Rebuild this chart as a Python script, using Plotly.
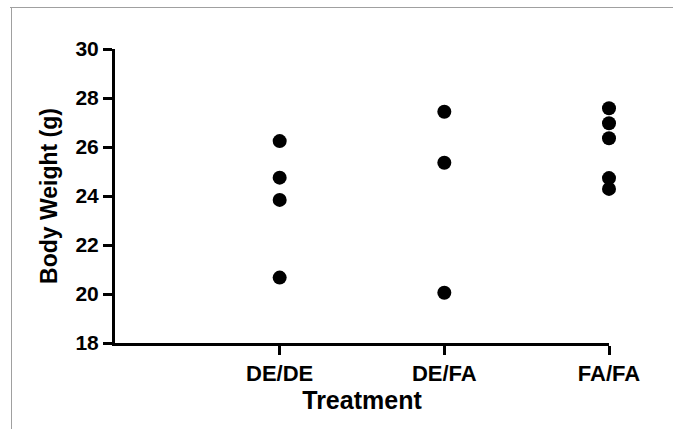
import plotly.graph_objects as go

categories = ["DE/DE", "DE/FA", "FA/FA"]
de_de = [26.24, 24.75, 23.84, 20.67]
de_fa = [27.44, 25.36, 20.05]
fa_fa = [27.58, 26.97, 26.36, 24.73, 24.29]
yticks = [18, 20, 22, 24, 26, 28, 30]

groups = [de_de, de_fa, fa_fa]
xs, ys = [], []
for cat, vals in zip(categories, groups):
    xs += [cat] * len(vals)
    ys += vals

fig = go.Figure()
fig.add_trace(go.Scatter(
    x=xs, y=ys, mode="markers",
    marker=dict(color="black", size=14, line=dict(width=0)),
    cliponaxis=False, showlegend=False,
))

font_family = "Liberation Sans, Arial, sans-serif"
fig.update_layout(
    width=673, height=429,
    margin=dict(l=115, r=64, t=49, b=86),
    paper_bgcolor="white", plot_bgcolor="white",
    font=dict(family=font_family, color="black"),
    xaxis=dict(
        type="category", categoryorder="array", categoryarray=categories,
        range=[-1, 2],
        showgrid=False, zeroline=False,
        showline=True, linecolor="black", linewidth=3,
        ticks="outside", ticklen=9, tickwidth=3, tickcolor="black",
        tickfont=dict(size=22, family=font_family, weight="bold"),
        title=dict(text="<b>Treatment</b>", font=dict(size=25, family=font_family), standoff=3),
    ),
    yaxis=dict(
        range=[18, 30], tickvals=yticks,
        showgrid=False, zeroline=False,
        showline=True, linecolor="black", linewidth=3,
        ticks="outside", ticklen=9, tickwidth=3, tickcolor="black",
        tickfont=dict(size=21, family=font_family, weight="bold"),
        title=dict(text="<b>Body Weight (g)</b>", font=dict(size=23, family=font_family), standoff=12),
    ),
    shapes=[
        dict(type="line", xref="paper", yref="paper",
             x0=(10 - 115) / 494, x1=(680 - 115) / 494,
             y0=(343 - 7.5) / 294, y1=(343 - 7.5) / 294,
             line=dict(color="#a0a0a0", width=1)),
        dict(type="line", xref="paper", yref="paper",
             x0=(11.5 - 115) / 494, x1=(11.5 - 115) / 494,
             y0=(343 - 7.5) / 294, y1=(343 - 440) / 294,
             line=dict(color="#a0a0a0", width=1)),
    ],
)

fig.write_html("out.html", config={"displayModeBar": False},
               post_script="document.body.style.margin='0';document.body.style.overflow='hidden';")
